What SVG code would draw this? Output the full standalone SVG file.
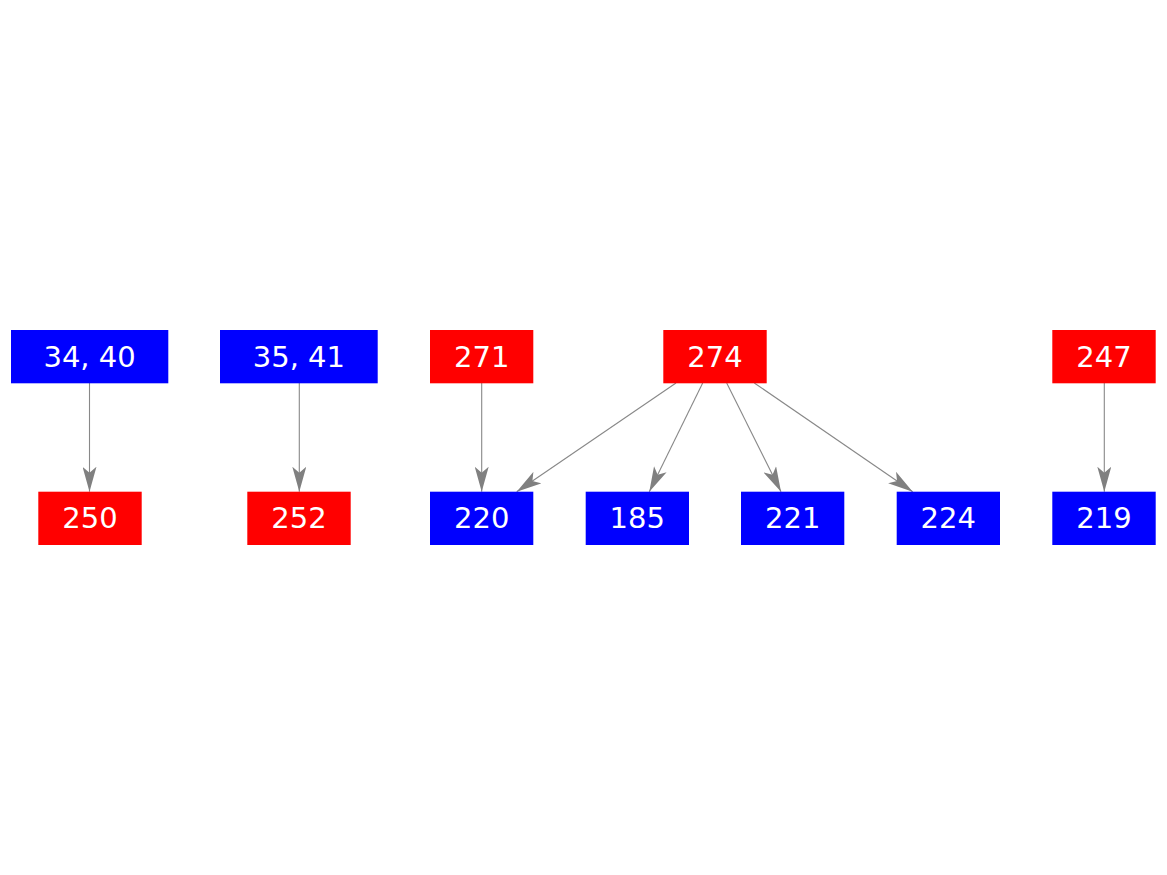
<svg xmlns="http://www.w3.org/2000/svg" width="1167" height="875" viewBox="0 0 1167 875">
<defs>
<style>
.r{fill:#ff0000}
.b{fill:#0000ff}
text{font-family:"DejaVu Sans",sans-serif;font-size:29px;fill:#ffffff;text-anchor:middle}
.e{stroke:#888888;stroke-width:1.1;fill:none;marker-end:url(#ah)}
</style>
<marker id="ah" markerUnits="userSpaceOnUse" viewBox="0 0 25 14" markerWidth="25" markerHeight="14" refX="25" refY="7" orient="auto">
<path d="M0,0 L25,7 L0,14 L6,7 Z" fill="#808080"/>
</marker>
</defs>
<rect width="1167" height="875" fill="#ffffff"/>
<g id="connectors">
<line class="e" x1="89.5" y1="383" x2="89.5" y2="491.7"/>
<line class="e" x1="299.3" y1="383" x2="299.3" y2="491.7"/>
<line class="e" x1="481.7" y1="383" x2="481.7" y2="491.7"/>
<line class="e" x1="676" y1="383" x2="516.7" y2="491.7"/>
<line class="e" x1="702.7" y1="383" x2="649.3" y2="491.7"/>
<line class="e" x1="726.7" y1="383" x2="781" y2="491.7"/>
<line class="e" x1="754.3" y1="383" x2="912.7" y2="491.7"/>
<line class="e" x1="1104.3" y1="383" x2="1104.3" y2="491.7"/>
</g>
<g id="n3440"><rect class="b" x="11" y="330" width="157.3" height="53.3"/><text x="89.6" y="366.7">34, 40</text></g>
<g id="n3541"><rect class="b" x="220" y="330" width="157.7" height="53.3"/><text x="298.9" y="366.7">35, 41</text></g>
<g id="n271"><rect class="r" x="430" y="330" width="103.3" height="53.3"/><text x="481.7" y="366.7">271</text></g>
<g id="n274"><rect class="r" x="663.3" y="330" width="103.4" height="53.3"/><text x="715" y="366.7">274</text></g>
<g id="n247"><rect class="r" x="1052.3" y="330" width="103.4" height="53.3"/><text x="1104" y="366.7">247</text></g>
<g id="n250"><rect class="r" x="38.3" y="491.7" width="103.4" height="53.3"/><text x="90" y="528.3">250</text></g>
<g id="n252"><rect class="r" x="247.3" y="491.7" width="103.4" height="53.3"/><text x="299" y="528.3">252</text></g>
<g id="n220"><rect class="b" x="430" y="491.7" width="103.3" height="53.3"/><text x="481.7" y="528.3">220</text></g>
<g id="n185"><rect class="b" x="585.7" y="491.7" width="103.3" height="53.3"/><text x="637.3" y="528.3">185</text></g>
<g id="n221"><rect class="b" x="741" y="491.7" width="103.3" height="53.3"/><text x="792.7" y="528.3">221</text></g>
<g id="n224"><rect class="b" x="896.7" y="491.7" width="103.3" height="53.3"/><text x="948.3" y="528.3">224</text></g>
<g id="n219"><rect class="b" x="1052.3" y="491.7" width="103.4" height="53.3"/><text x="1104" y="528.3">219</text></g>
</svg>
